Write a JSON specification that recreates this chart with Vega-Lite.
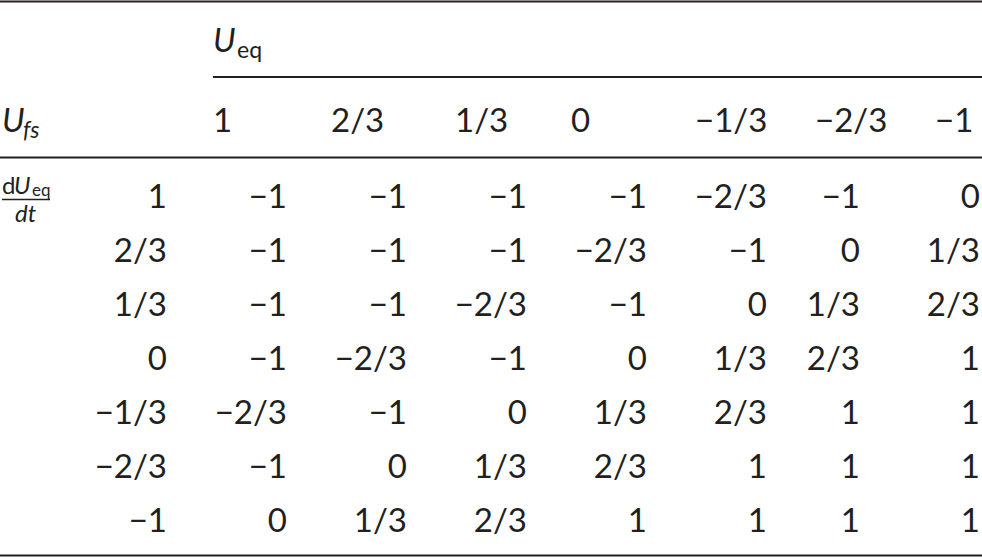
{
  "$schema": "https://vega.github.io/schema/vega-lite/v6.json",
  "width": 982,
  "height": 559,
  "padding": 0,
  "autosize": "none",
  "background": "white",
  "config": {
    "view": {"stroke": null},
    "text": {"font": "Lato", "fontSize": 33, "color": "#231f20", "baseline": "alphabetic"},
    "rule": {"color": "#231f20"}
  },
  "datasets": {
    "rules": [
      {"name": "top", "level": 0, "from": 0, "to": 4},
      {"name": "ueq group", "level": 1, "from": 3, "to": 4},
      {"name": "header", "level": 2, "from": 0, "to": 4},
      {"name": "fraction", "level": 3, "from": 1, "to": 2},
      {"name": "bottom", "level": 4, "from": 0, "to": 4}
    ],
    "body": [
      {"row": 2, "col": 0, "text": "1"},
      {"row": 2, "col": 1, "text": "−1"},
      {"row": 2, "col": 2, "text": "−1"},
      {"row": 2, "col": 3, "text": "−1"},
      {"row": 2, "col": 4, "text": "−1"},
      {"row": 2, "col": 5, "text": "−2/3"},
      {"row": 2, "col": 6, "text": "−1"},
      {"row": 2, "col": 7, "text": "0"},
      {"row": 3, "col": 0, "text": "2/3"},
      {"row": 3, "col": 1, "text": "−1"},
      {"row": 3, "col": 2, "text": "−1"},
      {"row": 3, "col": 3, "text": "−1"},
      {"row": 3, "col": 4, "text": "−2/3"},
      {"row": 3, "col": 5, "text": "−1"},
      {"row": 3, "col": 6, "text": "0"},
      {"row": 3, "col": 7, "text": "1/3"},
      {"row": 4, "col": 0, "text": "1/3"},
      {"row": 4, "col": 1, "text": "−1"},
      {"row": 4, "col": 2, "text": "−1"},
      {"row": 4, "col": 3, "text": "−2/3"},
      {"row": 4, "col": 4, "text": "−1"},
      {"row": 4, "col": 5, "text": "0"},
      {"row": 4, "col": 6, "text": "1/3"},
      {"row": 4, "col": 7, "text": "2/3"},
      {"row": 5, "col": 0, "text": "0"},
      {"row": 5, "col": 1, "text": "−1"},
      {"row": 5, "col": 2, "text": "−2/3"},
      {"row": 5, "col": 3, "text": "−1"},
      {"row": 5, "col": 4, "text": "0"},
      {"row": 5, "col": 5, "text": "1/3"},
      {"row": 5, "col": 6, "text": "2/3"},
      {"row": 5, "col": 7, "text": "1"},
      {"row": 6, "col": 0, "text": "−1/3"},
      {"row": 6, "col": 1, "text": "−2/3"},
      {"row": 6, "col": 2, "text": "−1"},
      {"row": 6, "col": 3, "text": "0"},
      {"row": 6, "col": 4, "text": "1/3"},
      {"row": 6, "col": 5, "text": "2/3"},
      {"row": 6, "col": 6, "text": "1"},
      {"row": 6, "col": 7, "text": "1"},
      {"row": 7, "col": 0, "text": "−2/3"},
      {"row": 7, "col": 1, "text": "−1"},
      {"row": 7, "col": 2, "text": "0"},
      {"row": 7, "col": 3, "text": "1/3"},
      {"row": 7, "col": 4, "text": "2/3"},
      {"row": 7, "col": 5, "text": "1"},
      {"row": 7, "col": 6, "text": "1"},
      {"row": 7, "col": 7, "text": "1"},
      {"row": 8, "col": 0, "text": "−1"},
      {"row": 8, "col": 1, "text": "0"},
      {"row": 8, "col": 2, "text": "1/3"},
      {"row": 8, "col": 3, "text": "2/3"},
      {"row": 8, "col": 4, "text": "1"},
      {"row": 8, "col": 5, "text": "1"},
      {"row": 8, "col": 6, "text": "1"},
      {"row": 8, "col": 7, "text": "1"}
    ],
    "head": [
      {"row": 1, "col": 1, "text": "1"},
      {"row": 1, "col": 2, "text": "2/3"},
      {"row": 1, "col": 3, "text": "1/3"},
      {"row": 1, "col": 4, "text": "0"},
      {"row": 1, "col": 5, "text": "−1/3"},
      {"row": 1, "col": 6, "text": "−2/3"},
      {"row": 1, "col": 7, "text": "−1"}
    ],
    "symbols": [
      {"part": "U", "row": 0, "col": 1, "text": "U"},
      {"part": "U", "row": 1, "col": 0, "text": "U"},
      {"part": "sub eq", "row": 0, "col": 1, "text": "eq"},
      {"part": "sub fs", "row": 1, "col": 0, "text": "fs"},
      {"part": "num d", "row": 2, "col": 0, "text": "d"},
      {"part": "num U", "row": 2, "col": 0, "text": "U"},
      {"part": "num eq", "row": 2, "col": 0, "text": "eq"},
      {"part": "den", "row": 2, "col": 0, "text": "dt"}
    ]
  },
  "layer": [
    {
      "data": {"name": "rules"},
      "mark": {"type": "rule"},
      "encoding": {
        "x": {"field": "from", "type": "quantitative", "axis": null,
              "scale": {"domain": [0, 1, 2, 3, 4], "range": [0, 2, 50, 213, 982], "nice": false, "zero": false}},
        "x2": {"field": "to"},
        "y": {"field": "level", "type": "quantitative", "axis": null,
              "scale": {"domain": [0, 1, 2, 3, 4], "range": [1.5, 77, 157.5, 199.5, 555.5], "nice": false, "zero": false}},
        "strokeWidth": {"condition": {"test": "datum.name === 'fraction'", "value": 1.3}, "value": 2}
      }
    },
    {
      "data": {"name": "body"},
      "mark": {"type": "text", "align": "right"},
      "encoding": {
        "x": {"field": "col", "type": "quantitative", "axis": null,
              "scale": {"domain": [0, 1, 2, 3, 4, 5, 6, 7], "range": [167, 287, 407, 527, 647, 767, 860, 980], "nice": false, "zero": false}},
        "y": {"field": "row", "type": "quantitative", "axis": null,
              "scale": {"domain": [0, 1, 2, 8], "range": [52, 132, 208, 532], "nice": false, "zero": false}},
        "text": {"field": "text"}
      }
    },
    {
      "encoding": {
        "x": {"field": "col", "type": "quantitative", "axis": null,
              "scale": {"domain": [0, 1, 2, 3, 4, 5, 6, 7], "range": [2, 213, 331, 455, 571, 695, 815, 935], "nice": false, "zero": false}},
        "y": {"field": "row", "type": "quantitative", "axis": null,
              "scale": {"domain": [0, 1, 2, 8], "range": [52, 132, 208, 532], "nice": false, "zero": false}},
        "text": {"field": "text"}
      },
      "layer": [
        {
          "data": {"name": "head"},
          "mark": {"type": "text", "align": "left"}
        },
        {
          "data": {"name": "symbols"},
          "transform": [{"filter": "datum.part === 'U'"}],
          "mark": {"type": "text", "align": "left", "fontStyle": "italic"}
        },
        {
          "data": {"name": "symbols"},
          "transform": [{"filter": "datum.part === 'sub eq'"}],
          "mark": {"type": "text", "align": "left", "fontSize": 23, "dx": 24, "dy": 6}
        },
        {
          "data": {"name": "symbols"},
          "transform": [{"filter": "datum.part === 'sub fs'"}],
          "mark": {"type": "text", "align": "left", "fontSize": 23, "fontStyle": "italic", "dx": 21, "dy": 6}
        },
        {
          "data": {"name": "symbols"},
          "transform": [{"filter": "datum.part === 'num d'"}],
          "mark": {"type": "text", "align": "left", "fontSize": 24, "dx": 0, "dy": -14}
        },
        {
          "data": {"name": "symbols"},
          "transform": [{"filter": "datum.part === 'num U'"}],
          "mark": {"type": "text", "align": "left", "fontSize": 24, "fontStyle": "italic", "dx": 12, "dy": -14}
        },
        {
          "data": {"name": "symbols"},
          "transform": [{"filter": "datum.part === 'num eq'"}],
          "mark": {"type": "text", "align": "left", "fontSize": 17, "dx": 30, "dy": -12}
        },
        {
          "data": {"name": "symbols"},
          "transform": [{"filter": "datum.part === 'den'"}],
          "mark": {"type": "text", "align": "left", "fontSize": 24, "fontStyle": "italic", "dx": 13, "dy": 14}
        }
      ]
    }
  ],
  "resolve": {"scale": {"x": "independent", "y": "independent"}}
}
